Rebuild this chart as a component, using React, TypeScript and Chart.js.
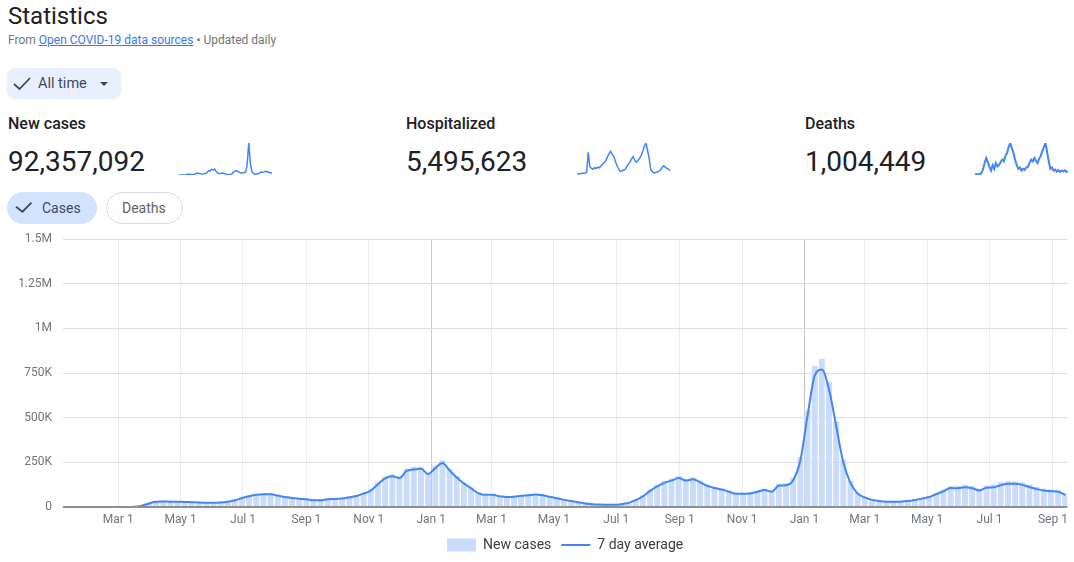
import React, { useEffect, useRef } from "react";
import { Chart, registerables } from "chart.js";

Chart.register(...registerables);

const FONT = "Roboto, Arial, sans-serif";

// ---- main chart data (weekly points, thousands of cases) ----
const WEEK_START = "2020-01-07";
const X_MIN_DATE = "2020-01-07";
const X_MAX_DATE = "2022-09-15";

const AVG_K = [
  0, 0, 0, 0, 0, 0, 0, 0, 0,
  0, 1, 7, 20, 29,
  31, 30, 30, 28, 27,
  25, 24, 24, 25, 29,
  38, 50, 60, 68, 72,
  71, 64, 56, 51, 46,
  44, 38, 38, 44, 45,
  48, 54, 62, 75, 92,
  128, 160, 172, 162, 202,
  210, 214, 185, 218, 246,
  205, 165, 132, 105, 78,
  68, 68, 60, 56, 58,
  63, 66, 70, 66, 57,
  49, 40, 33, 27, 20,
  16, 14, 13, 13, 16,
  23, 38, 60, 90, 115,
  135, 148, 162, 148, 155,
  138, 118, 106, 98, 86,
  74, 74, 76, 85, 95,
  86, 120, 122, 150, 260,
  510, 735, 770, 660, 455,
  250, 135, 75, 54, 40,
  34, 30, 29, 30, 33,
  39, 47, 56, 72, 88,
  106, 105, 110, 105, 93,
  108, 110, 122, 130, 130,
  124, 112, 100, 92, 88,
  86, 67,
];

const BARS_K = [
  0, 0, 0, 0, 0, 0, 0, 0, 0,
  0, 2, 8, 22, 32,
  33, 31, 32, 29, 28,
  27, 25, 26, 27, 32,
  41, 54, 64, 73, 77,
  75, 67, 59, 54, 49,
  46, 40, 42, 47, 48,
  51, 58, 66, 81, 100,
  140, 172, 184, 170, 216,
  224, 226, 192, 232, 262,
  214, 174, 140, 110, 82,
  72, 71, 63, 59, 61,
  67, 70, 74, 69, 60,
  52, 42, 35, 28, 21,
  17, 15, 14, 14, 18,
  26, 42, 66, 98, 124,
  146, 160, 174, 158, 166,
  148, 126, 114, 104, 92,
  80, 80, 84, 94, 104,
  94, 132, 134, 165, 280,
  540, 790, 830, 700, 480,
  265, 145, 82, 58, 43,
  37, 33, 32, 33, 36,
  43, 52, 62, 80, 98,
  118, 118, 124, 118, 104,
  122, 126, 140, 146, 144,
  138, 126, 114, 104, 100,
  96, 76,
];

const TICK_DATES = [
  "2020-03-01", "2020-05-01", "2020-07-01", "2020-09-01", "2020-11-01",
  "2021-01-01", "2021-03-01", "2021-05-01", "2021-07-01", "2021-09-01", "2021-11-01",
  "2022-01-01", "2022-03-01", "2022-05-01", "2022-07-01", "2022-09-01",
];
const TICK_LABELS = [
  "Mar 1", "May 1", "Jul 1", "Sep 1", "Nov 1",
  "Jan 1", "Mar 1", "May 1", "Jul 1", "Sep 1", "Nov 1",
  "Jan 1", "Mar 1", "May 1", "Jul 1", "Sep 1",
];

// ---- sparkline data ----
const SPARK_CASES_K = [
  0, 0, 0, 0, 1, 20, 32, 28, 24, 22, 30, 55, 72, 58, 45, 38, 45, 55, 80, 160,
  150, 220, 200, 232, 130, 75, 62, 58, 72, 55, 38, 25, 14, 13, 35, 100, 150, 175, 140, 100,
  75, 80, 100, 120, 420, 1240, 480, 140, 60, 32, 30, 45, 80, 115, 105, 120, 140, 125, 105, 90, 70,
];
const SPARK_HOSP_REL = [
  3, 4, 4, 5, 5, 6, 8, 69, 25, 20, 17, 22, 20, 24, 22, 28, 32, 38, 44, 55,
  65, 72, 62, 56, 40, 28, 18, 11, 13, 15, 17, 25, 32, 39, 48, 56, 45, 39, 44, 50,
  60, 72, 88, 97, 75, 50, 17, 10, 6, 8, 9, 11, 15, 22, 28, 24, 20, 18, 13,
];
const SPARK_DEATHS_REL = [
  2, 2, 2, 3, 5, 17, 35, 50, 38, 24, 13, 29, 18, 35, 25, 29, 38, 45, 40, 56,
  65, 83, 94, 78, 65, 45, 30, 18, 22, 13, 18, 15, 22, 24, 35, 45, 40, 50, 42, 35,
  48, 56, 70, 83, 94, 67, 40, 18, 22, 13, 16, 10, 14, 9, 13, 11, 14, 9, 10,
];

const dayOf = (iso: string) =>
  (Date.parse(iso + "T00:00:00Z") - Date.parse("2020-01-01T00:00:00Z")) / 86400000;

const fmtY = (v: number) => (v === 0 ? "0" : v < 1000 ? `${v}K` : `${v / 1000}M`);

function MainChart() {
  const ref = useRef<HTMLCanvasElement>(null);
  useEffect(() => {
    const start = dayOf(WEEK_START);
    const xs = AVG_K.map((_, i) => start + 7 * i);
    const tickDays = TICK_DATES.map(dayOf);
    const yearDays = tickDays.filter((_, i) => TICK_LABELS[i] === "Jan 1");
    const baseline = {
      id: "baseline",
      afterDatasetsDraw(chart: any) {
        const { ctx, chartArea, scales } = chart;
        const y = scales.y.getPixelForValue(0);
        ctx.save();
        ctx.strokeStyle = "#8f8f8f";
        ctx.lineWidth = 2;
        ctx.beginPath();
        ctx.moveTo(chartArea.left, y);
        ctx.lineTo(chartArea.right, y);
        ctx.stroke();
        ctx.restore();
      },
    };
    const chart = new Chart(ref.current!, {
      type: "bar",
      data: {
        datasets: [
          {
            type: "line",
            label: "7 day average",
            data: xs.map((x, i) => ({ x, y: AVG_K[i] })),
            borderColor: "#4285f4",
            backgroundColor: "#4285f4",
            borderWidth: 2,
            pointRadius: 0,
            pointStyle: "line",
            cubicInterpolationMode: "monotone",
            fill: false,
          } as any,
          {
            type: "bar",
            label: "New cases",
            data: xs.map((x, i) => ({ x, y: BARS_K[i] })),
            backgroundColor: "#cadcfb",
            borderWidth: 0,
            barPercentage: 0.82,
            categoryPercentage: 1,
            pointStyle: "rect",
          } as any,
        ],
      },
      options: {
        animation: false,
        responsive: false,
        maintainAspectRatio: false,
        devicePixelRatio: 1,
        events: [],
        layout: { padding: { top: 12, right: 6, bottom: 0, left: 0 } },
        plugins: {
          tooltip: { enabled: false },
          legend: {
            position: "bottom",
            fullSize: false,
            labels: {
              usePointStyle: true,
              pointStyleWidth: 29,
              boxHeight: 13,
              padding: 10,
              color: "#3c4043",
              font: { family: FONT, size: 14 },
              sort: (a: any, b: any) => b.datasetIndex - a.datasetIndex,
            } as any,
          },
        },
        scales: {
          x: {
            type: "linear",
            min: dayOf(X_MIN_DATE),
            max: dayOf(X_MAX_DATE),
            offset: false,
            afterBuildTicks: (axis: any) => {
              axis.ticks = tickDays.map((v) => ({ value: v }));
            },
            afterFit: (s: any) => {
              s.height = 21;
            },
            ticks: {
              autoSkip: false,
              maxRotation: 0,
              padding: 6,
              color: "#70757a",
              font: { family: FONT, size: 12 },
              callback: (v: any) => {
                const i = tickDays.indexOf(Number(v));
                return i >= 0 ? TICK_LABELS[i] : "";
              },
            },
            grid: {
              offset: false,
              drawTicks: false,
              color: (c: any) =>
                c.tick && yearDays.includes(c.tick.value) ? "#c8c8c8" : "#ececec",
              lineWidth: 1,
            },
            border: { display: false },
          } as any,
          y: {
            min: 0,
            max: 1500,
            afterFit: (s: any) => {
              s.width = 63;
            },
            ticks: {
              stepSize: 250,
              padding: 11,
              color: "#70757a",
              font: { family: FONT, size: 12 },
              callback: (v: any) => fmtY(Number(v)),
            },
            grid: { drawTicks: false, color: "#dedede", lineWidth: 1 },
            border: { display: false },
          },
        },
      },
      plugins: [baseline],
    });
    return () => chart.destroy();
  }, []);
  return (
    <canvas
      ref={ref}
      width={1074}
      height={341}
      style={{ position: "absolute", left: 0, top: 221, width: 1074, height: 341 }}
    />
  );
}

function Spark({ data, left, top, width = 97, height = 36, lineWidth = 1.5 }: any) {
  const ref = useRef<HTMLCanvasElement>(null);
  useEffect(() => {
    const chart = new Chart(ref.current!, {
      type: "line",
      data: {
        labels: data.map((_: number, i: number) => i),
        datasets: [
          {
            data,
            borderColor: "#4285f4",
            borderWidth: lineWidth,
            pointRadius: 0,
            tension: 0,
            fill: false,
          },
        ],
      },
      options: {
        animation: false,
        responsive: false,
        maintainAspectRatio: false,
        devicePixelRatio: 1,
        events: [],
        layout: { padding: 2 },
        plugins: { legend: { display: false }, tooltip: { enabled: false } },
        scales: {
          x: { display: false },
          y: { display: false, min: 0, max: Math.max(...data) },
        },
      },
    });
    return () => chart.destroy();
  }, []);
  return (
    <canvas
      ref={ref}
      width={width}
      height={height}
      style={{ position: "absolute", left, top, width, height }}
    />
  );
}

const abs = (s: any) => ({ position: "absolute" as const, whiteSpace: "nowrap" as const, ...s });

function Stat({ left, label, value, spark, sparkLeft, sparkWidth }: any) {
  return (
    <>
      <div style={abs({ left, top: 114, fontSize: 16, lineHeight: "20px", fontWeight: 500, color: "#202124" })}>
        {label}
      </div>
      <div style={abs({ left, top: 146, fontSize: 28, lineHeight: "32px", color: "#202124" })}>{value}</div>
      <Spark data={spark} left={sparkLeft} top={141} lineWidth={sparkWidth} />
    </>
  );
}

export default function App() {
  return (
    <div
      style={{
        position: "absolute",
        left: 0,
        top: 0,
        width: 1074,
        height: 562,
        overflow: "hidden",
        background: "#fff",
        fontFamily: FONT,
      }}
    >
      <div style={abs({ left: 8, top: 2, fontSize: 24, lineHeight: "28px", color: "#202124" })}>Statistics</div>
      <div style={abs({ left: 8, top: 32, fontSize: 12, lineHeight: "16px", color: "#70757a" })}>
        From <span style={{ color: "#3b78e7", textDecoration: "underline" }}>Open COVID-19 data sources</span> •
        Updated daily
      </div>

      {/* All time chip */}
      <div style={abs({ left: 7, top: 68, width: 114, height: 31, background: "#e8f0fe", borderRadius: 8 })} />
      <svg style={abs({ left: 0, top: 0 })} width={1074} height={240}>
        <polyline points="14,84 19.5,89 30,78" fill="none" stroke="#3c4a6b" strokeWidth={1.8} />
        <polygon points="100,82 108,82 104,86" fill="#3c4043" />
      </svg>
      <div style={abs({ left: 38, top: 75, fontSize: 14.5, lineHeight: "18px", color: "#3c4a5e" })}>All time</div>

      <Stat left={8} label="New cases" value="92,357,092" spark={SPARK_CASES_K} sparkLeft={177} sparkWidth={1.5} />
      <Stat left={406} label="Hospitalized" value="5,495,623" spark={SPARK_HOSP_REL} sparkLeft={575} sparkWidth={1.5} />
      <Stat left={805} label="Deaths" value="1,004,449" spark={SPARK_DEATHS_REL} sparkLeft={973} sparkWidth={2} />

      {/* Cases / Deaths chips */}
      <div style={abs({ left: 7, top: 192, width: 90, height: 32, background: "#d3e3fd", borderRadius: 16 })} />
      <div
        style={abs({
          left: 106,
          top: 192,
          width: 77,
          height: 32,
          boxSizing: "border-box",
          border: "1px solid #dadce0",
          borderRadius: 16,
          background: "#fff",
        })}
      />
      <svg style={abs({ left: 0, top: 190 })} width={200} height={40}>
        <polyline points="16,16.7 22.5,21.7 31.5,12.7" fill="none" stroke="#3c4a6b" strokeWidth={1.8} />
      </svg>
      <div style={abs({ left: 42, top: 199, fontSize: 14, lineHeight: "18px", color: "#3c4a6b" })}>Cases</div>
      <div style={abs({ left: 122, top: 199, fontSize: 14, lineHeight: "18px", color: "#5f6368" })}>Deaths</div>

      <MainChart />
    </div>
  );
}
